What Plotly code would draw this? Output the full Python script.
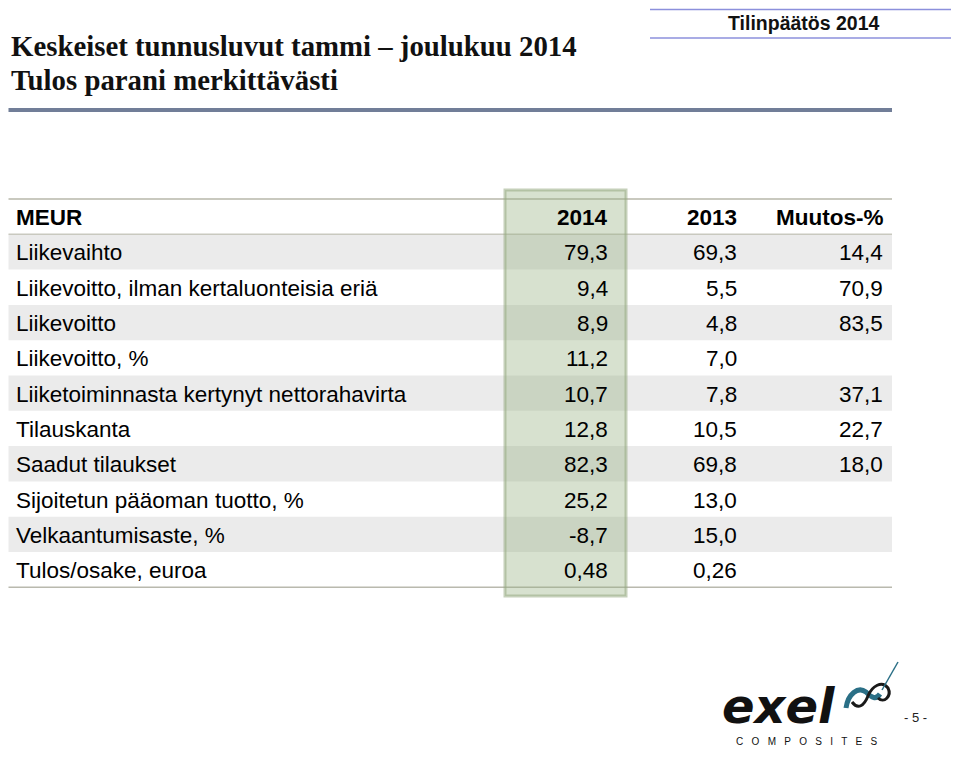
import plotly.graph_objects as go

# ---- data ----
labels = ["Liikevaihto", "Liikevoitto, ilman kertaluonteisia eriä", "Liikevoitto",
          "Liikevoitto, %", "Liiketoiminnasta kertynyt nettorahavirta", "Tilauskanta",
          "Saadut tilaukset", "Sijoitetun pääoman tuotto, %", "Velkaantumisaste, %",
          "Tulos/osake, euroa"]
v2014 = ["79,3", "9,4", "8,9", "11,2", "10,7", "12,8", "82,3", "25,2", "-8,7", "0,48"]
v2013 = ["69,3", "5,5", "4,8", "7,0", "7,8", "10,5", "69,8", "13,0", "15,0", "0,26"]
muutos = ["14,4", "70,9", "83,5", "", "37,1", "22,7", "18,0", "", "", ""]
headers = ["MEUR", "2014", "2013", "Muutos-%"]
title1 = "Keskeiset tunnusluvut tammi – joulukuu 2014"
title2 = "Tulos parani merkittävästi"
badge = "Tilinpäätös 2014"

W, H = 959, 760
OFF = 8  # page body margin compensation
fig = go.Figure()
fig.add_trace(go.Scatter(x=[OFF + 1, W], y=[OFF + 1, H], mode="markers", marker=dict(opacity=0), hoverinfo="skip", showlegend=False))

shapes = []
ann = []
TOP = 199
RH = 35.3
XL, XR = 8.5, 892
n = len(labels)

# striped rows
for i in range(n):
    y0 = TOP + (i + 1) * RH
    if i % 2 == 0:
        shapes.append(dict(type="rect", x0=XL, x1=XR, y0=y0, y1=y0 + RH, fillcolor="#ebebeb", line=dict(width=0), layer="below"))

# lines
shapes.append(dict(type="line", x0=XL, x1=XR, y0=TOP, y1=TOP, line=dict(color="#c9c9bf", width=2)))
shapes.append(dict(type="line", x0=XL, x1=XR, y0=TOP + RH, y1=TOP + RH, line=dict(color="#c9c9bf", width=1.5)))
shapes.append(dict(type="line", x0=XL, x1=XR, y0=TOP + (n + 1) * RH, y1=TOP + (n + 1) * RH, line=dict(color="#b9b9ae", width=1.5)))

# highlighted 2014 column
shapes.append(dict(type="rect", x0=505, x1=626, y0=190, y1=596, fillcolor="rgba(150,175,130,0.38)",
                   line=dict(color="rgba(150,170,130,0.55)", width=3)))

FS = 22.5
FONT = "Liberation Sans, Arial, sans-serif"
cols_x = [14, 610, 739, 885]
for j, h in enumerate(headers):
    ann.append(dict(x=cols_x[j], y=TOP + RH / 2 + 1, text="<b>%s</b>" % h, showarrow=False,
                    xanchor="left" if j == 0 else "right", yanchor="middle",
                    font=dict(family=FONT, size=FS, color="#000")))
for i in range(n):
    yc = TOP + (i + 1) * RH + RH / 2 + 1
    for j, val in enumerate([labels[i], v2014[i], v2013[i], muutos[i]]):
        if not val:
            continue
        ann.append(dict(x=cols_x[j], y=yc, text=val, showarrow=False,
                        xanchor="left" if j == 0 else "right", yanchor="middle",
                        font=dict(family=FONT, size=FS, color="#000")))

# titles
SERIF = "Liberation Serif, Times New Roman, serif"
ann.append(dict(x=8.5, y=46, text="<b>%s</b>" % title1, showarrow=False, xanchor="left", yanchor="middle",
                font=dict(family=SERIF, size=28.8, color="#111")))
ann.append(dict(x=8.5, y=80, text="<b>%s</b>" % title2, showarrow=False, xanchor="left", yanchor="middle",
                font=dict(family=SERIF, size=28.8, color="#111")))
shapes.append(dict(type="line", x0=XL, x1=892, y0=110, y1=110, line=dict(color="#717e98", width=4)))

# badge
shapes.append(dict(type="line", x0=650, x1=W + OFF, y0=9.5, y1=9.5, line=dict(color="#8c90dc", width=1.5)))
shapes.append(dict(type="line", x0=650, x1=W + OFF, y0=38, y1=38, line=dict(color="#8c90dc", width=1.5)))
ann.append(dict(x=804, y=23, text="<b>%s</b>" % badge, showarrow=False, xanchor="center", yanchor="middle",
                font=dict(family=FONT, size=19.5, color="#111")))

# logo
ann.append(dict(x=720, y=706, text="<b><i>exel</i></b>", showarrow=False, xanchor="left", yanchor="middle",
                font=dict(family="DejaVu Sans, sans-serif", size=48, color="#111")))
ann.append(dict(x=806, y=741, text="C   O   M   P   O   S   I   T   E   S", showarrow=False, xanchor="center", yanchor="middle",
                font=dict(family=FONT, size=10, color="#111")))
shapes.append(dict(type="path", path="M 846 708 C 848 694, 858 686, 866 692 C 872 698, 876 700, 880 694",
                   line=dict(color="#2a6f86", width=5)))
shapes.append(dict(type="path", path="M 852 702 C 858 710, 864 706, 868 696 C 872 686, 882 680, 888 688 C 892 696, 884 704, 878 698",
                   line=dict(color="#1a1a1a", width=3)))
shapes.append(dict(type="line", x0=882, x1=898, y0=690, y1=662, line=dict(color="#2a6f86", width=1.5)))
ann.append(dict(x=915, y=717, text="- 5 -", showarrow=False, xanchor="center", yanchor="middle",
                font=dict(family=FONT, size=13, color="#222")))

fig.update_layout(width=W, height=H, margin=dict(l=0, r=0, t=0, b=0),
                  paper_bgcolor="white", plot_bgcolor="white",
                  xaxis=dict(range=[OFF, W + OFF], visible=False, fixedrange=True),
                  yaxis=dict(range=[H + OFF, OFF], visible=False, fixedrange=True),
                  shapes=shapes, annotations=ann, showlegend=False)
fig.write_html("out.html")
